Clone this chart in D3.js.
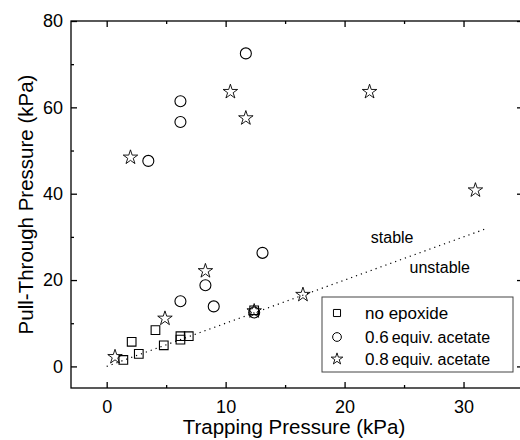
<!DOCTYPE html>
<html>
<head>
<meta charset="utf-8">
<script src="https://cdn.jsdelivr.net/npm/d3@7"></script>
<style>
  body { margin: 0; background: #fff; }
  svg text { font-family: "Liberation Sans", Arial, sans-serif; fill: #000; }
</style>
</head>
<body>
<div id="chart"></div>
<script>
// data: [trapping kPa, pull-through kPa]
var noEpoxide = [[1.4, 1.5], [2.7, 2.9], [2.1, 5.7], [4.1, 8.4], [4.8, 4.9],
                 [6.2, 7.0], [6.2, 6.2], [6.9, 7.0], [12.4, 13.0]];
var acetate06 = [[3.5, 47.6], [6.2, 61.4], [6.2, 56.6], [11.7, 72.5], [8.3, 18.8],
                 [6.2, 15.1], [9.0, 13.9], [13.1, 26.3], [12.4, 12.5]];
var acetate08 = [[0.7, 2.2], [2.0, 48.4], [4.9, 11.1], [8.3, 22.1], [10.4, 63.6],
                 [11.7, 57.5], [12.4, 12.8], [16.5, 16.6], [22.1, 63.6], [31.0, 40.8]];
var boundary = [[0, 0], [32, 32]];
var xTicks = [0, 10, 20, 30];
var xMinor = [5, 15, 25];
var yTicks = [0, 20, 40, 60, 80];
var yMinor = [10, 30, 50, 70];
var legendLabels = [["no epoxide", ""], ["0.6", "equiv. acetate"], ["0.8", "equiv. acetate"]];

var W = 520, H = 440;
var margin = {top: 21, right: -3, bottom: 52, left: 71},
    width = W - margin.left - margin.right,
    height = H - margin.top - margin.bottom;

var x = d3.scaleLinear().domain([-3, 35]).range([0, width]);
var y = d3.scaleLinear().domain([-5, 80]).range([height, 0]);

var svg = d3.select("#chart").append("svg")
    .attr("width", W)
    .attr("height", H)
    .append("g")
    .attr("transform", "translate(" + margin.left + "," + margin.top + ")");

// minor ticks first, then major ticks with labels (all ticks point inward)
function minor(axis, ticks) {
    return axis.tickValues(ticks).tickSize(-3).tickFormat("");
}

svg.append("g").attr("class", "axis").attr("transform", "translate(0," + height + ")")
    .call(minor(d3.axisBottom(x), xMinor));
svg.append("g").attr("class", "axis").attr("transform", "translate(0," + height + ")")
    .call(d3.axisBottom(x).tickValues(xTicks).tickSize(-6).tickPadding(12));
svg.append("g").attr("class", "axis")
    .call(minor(d3.axisTop(x), xMinor));
svg.append("g").attr("class", "axis")
    .call(d3.axisTop(x).tickValues(xTicks).tickSize(-6).tickFormat(""));

svg.append("g").attr("class", "axis")
    .call(minor(d3.axisLeft(y), yMinor));
svg.append("g").attr("class", "axis")
    .call(d3.axisLeft(y).tickValues(yTicks).tickSize(-6).tickPadding(8));
svg.append("g").attr("class", "axis").attr("transform", "translate(" + width + ",0)")
    .call(minor(d3.axisRight(y), yMinor));
svg.append("g").attr("class", "axis").attr("transform", "translate(" + width + ",0)")
    .call(d3.axisRight(y).tickValues(yTicks).tickSize(-6).tickFormat(""));

svg.selectAll(".axis line").attr("stroke", "#000").attr("stroke-width", 1.3);
svg.selectAll(".axis path").remove();
svg.selectAll(".axis text").style("font-size", "18px").attr("fill", "#000");

// frame
svg.append("rect")
    .attr("width", width).attr("height", height)
    .attr("fill", "none").attr("stroke", "#000").attr("stroke-width", 1.3);

// axis titles
svg.append("text")
    .attr("x", width / 2 - 3)
    .attr("y", height + 46)
    .attr("text-anchor", "middle")
    .style("font-size", "20.5px")
    .text("Trapping Pressure (kPa)");

svg.append("text")
    .attr("transform", "translate(" + (-38) + "," + (height / 2) + ") rotate(-90)")
    .attr("text-anchor", "middle")
    .style("font-size", "20.5px")
    .text("Pull-Through Pressure (kPa)");

// stable / unstable boundary
var line = d3.line()
    .x(function(d) { return x(d[0]); })
    .y(function(d) { return y(d[1]); });

svg.append("path")
    .datum(boundary)
    .attr("d", line)
    .attr("fill", "none")
    .attr("stroke", "#000")
    .attr("stroke-width", 1.2)
    .attr("stroke-dasharray", "1.2,4");

svg.append("text")
    .attr("x", x(24)).attr("y", y(28.5))
    .attr("text-anchor", "middle")
    .style("font-size", "16px")
    .text("stable");
svg.append("text")
    .attr("x", x(28)).attr("y", y(21.6))
    .attr("text-anchor", "middle")
    .style("font-size", "16px")
    .text("unstable");

// points
var sq = d3.symbol().type(d3.symbolSquare).size(75);
var ci = d3.symbol().type(d3.symbolCircle).size(95);
var st = d3.symbol().type(d3.symbolStar).size(65);

function drawPoints(data, sym, cls, sw) {
    svg.selectAll("path." + cls)
        .data(data)
        .enter().append("path")
        .attr("class", cls)
        .attr("d", sym)
        .attr("transform", function(d) { return "translate(" + x(d[0]) + "," + y(d[1]) + ")"; })
        .attr("fill", "none")
        .attr("stroke", "#000")
        .attr("stroke-width", sw);
}
drawPoints(noEpoxide, sq, "p1", 1.1);
drawPoints(acetate06, ci, "p2", 1.1);
drawPoints(acetate08, st, "p3", 0.9);

// legend
var legend = svg.append("g")
    .attr("transform", "translate(" + (322 - margin.left) + "," + (297 - margin.top) + ")");

legend.append("rect")
    .attr("width", 191).attr("height", 75)
    .attr("fill", "#fff")
    .attr("stroke", "#444")
    .attr("stroke-width", 1);

var legSyms = [d3.symbol().type(d3.symbolSquare).size(50),
               d3.symbol().type(d3.symbolCircle).size(60),
               d3.symbol().type(d3.symbolStar).size(42)];
var rowY = [16, 40, 62];

legendLabels.forEach(function(lab, i) {
    legend.append("path")
        .attr("d", legSyms[i])
        .attr("transform", "translate(15," + rowY[i] + ")")
        .attr("fill", "none").attr("stroke", "#000").attr("stroke-width", i == 2 ? 0.9 : 1);
    var t = legend.append("text")
        .attr("x", 43).attr("y", rowY[i] + 6)
        .style("font-size", "17px");
    t.append("tspan").text(lab[0]);
    if (lab[1]) t.append("tspan").attr("dx", 3).style("font-size", "16px").text(lab[1]);
});
</script>
</body>
</html>
